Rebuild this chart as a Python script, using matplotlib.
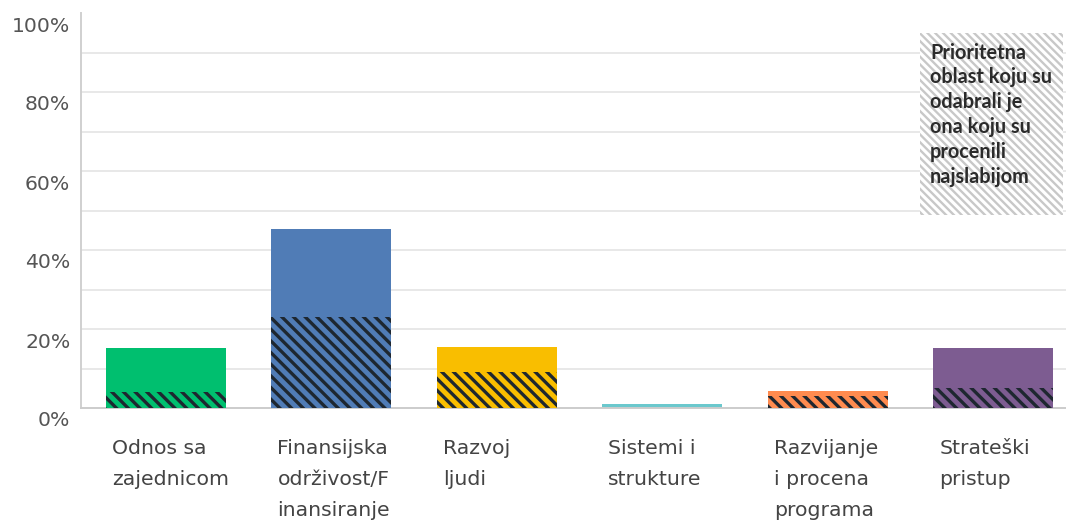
import matplotlib.pyplot as plt
from matplotlib.patches import Rectangle
from matplotlib.transforms import ScaledTranslation
import numpy as np

# data
categories = ["Odnos sa\nzajednicom", "Finansijska\nodrživost/F\ninansiranje",
              "Razvoj\nljudi", "Sistemi i\nstrukture",
              "Razvijanje\ni procena\nprograma", "Strateški\npristup"]
total = [15.3, 45.3, 15.4, 1.0, 4.3, 15.3]       # all who picked the area
weakest = [4.0, 23.0, 9.0, 0.0, 3.0, 5.1]        # picked and rated it weakest
colors = ["#00BF6F", "#507CB6", "#F9BE00", "#6BC8CD", "#FF8B4F", "#7D5C91"]
yticks = list(range(0, 101, 10))
ylabels = ["0%", "", "20%", "", "40%", "", "60%", "", "80%", "", "100%"]
note = "Prioritetna\noblast koju su\nodabrali je\nona koju su\nprocenili\nnajslabijom"

DPI = 70
fig = plt.figure(figsize=(1066 / DPI, 522 / DPI), dpi=DPI)
ax = fig.add_axes([81 / 1066, 1 - 408 / 522, 985 / 1066, 395 / 522])

x = np.arange(len(categories))
w = 0.725
ax.bar(x, total, width=w, color=colors, linewidth=0, zorder=2)
hb = ax.bar(x, weakest, width=w, color=colors, edgecolor="#1e2730",
            linewidth=0, hatch="\\\\", zorder=3)
for p in hb:
    if hasattr(p, "set_hatch_linewidth"):
        p.set_hatch_linewidth(3.4)

ax.set_xlim(-0.514, 5.44)
ax.set_ylim(0, 100)

# grid lines (no line at 100%)
for v in yticks[1:-1]:
    ax.axhline(v, color="#e8e8e8", lw=2, zorder=1)

ax.set_yticks(yticks)
ax.set_yticklabels(ylabels, fontsize=21, color="#555555")
ax.tick_params(axis="y", length=0, pad=11)
for lab in ax.get_yticklabels():
    lab.set_transform(lab.get_transform() +
                      ScaledTranslation(0, -11 / DPI, fig.dpi_scale_trans))

ax.set_xticks(x)
ax.set_xticklabels(categories, fontsize=21, color="#444444",
                   ha="left", va="top", linespacing=1.78)
ax.tick_params(axis="x", length=0, pad=32)
for lab in ax.get_xticklabels():
    lab.set_transform(lab.get_transform() +
                      ScaledTranslation(-54 / DPI, 0, fig.dpi_scale_trans))

for s in ["top", "right"]:
    ax.spines[s].set_visible(False)
ax.spines["left"].set_color("#d0d0d0")
ax.spines["left"].set_linewidth(2)
ax.spines["bottom"].set_color("#cccccc")
ax.spines["bottom"].set_linewidth(2)

# note box
box = Rectangle((0.852, 0.489), 0.145, 0.46, transform=ax.transAxes,
                facecolor="white", edgecolor="#c8c8c8", linewidth=0,
                hatch="\\\\\\", zorder=4)
if hasattr(box, "set_hatch_linewidth"):
    box.set_hatch_linewidth(2.4)
ax.add_patch(box)
ax.text(0.862, 0.925, note, transform=ax.transAxes, ha="left", va="top",
        fontsize=20.5, fontweight="bold", family="Lato", color="#2b2b2b",
        linespacing=1.3, zorder=5)

fig.savefig("out.png", dpi=DPI)
